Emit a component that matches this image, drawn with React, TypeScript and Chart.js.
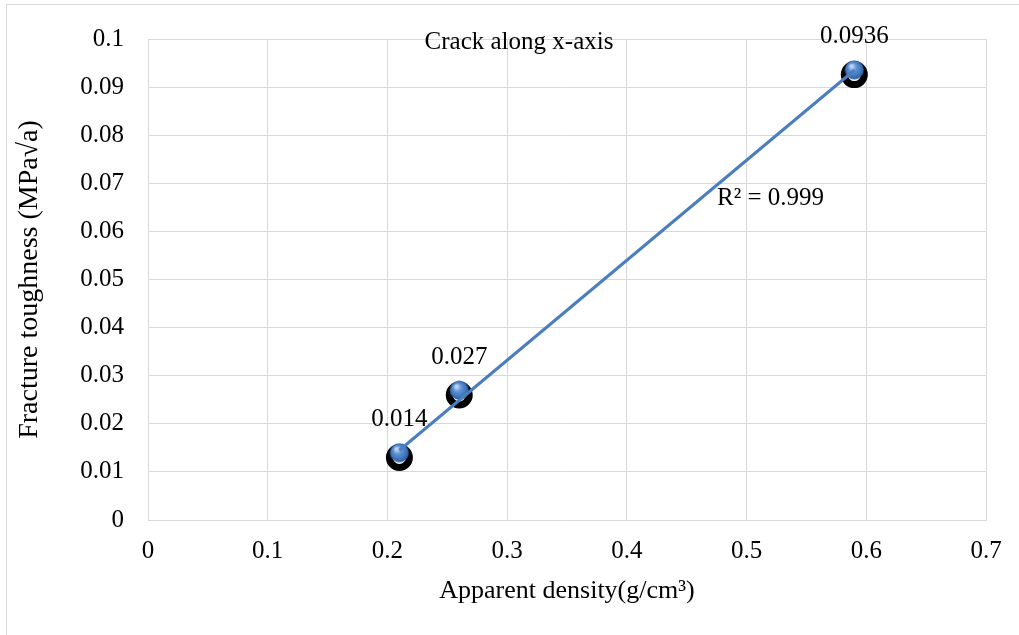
import React, { useEffect, useRef } from "react";
import { Chart, registerables } from "chart.js";

Chart.register(...registerables);

// ---- data ----
const densities = [0.21, 0.26, 0.59];
const toughness = [0.014, 0.027, 0.0936];
const markerShadow = [0.013, 0.026, 0.0926];
const valueLabels = ["0.014", "0.027", "0.0936"];
const trendDensity = [0.21, 0.59];
const trendToughness = [0.0145, 0.0935];
const xTicks = ["0", "0.1", "0.2", "0.3", "0.4", "0.5", "0.6", "0.7"];
const yTicks = ["0", "0.01", "0.02", "0.03", "0.04", "0.05", "0.06", "0.07", "0.08", "0.09", "0.1"];
const xTitle = "Apparent density(g/cm³)";
const yTitle = "Fracture toughness (MPa√a)";
const annotationTitle = "Crack along x-axis";
const rSquared = "R² = 0.999";

const FONT = "'Liberation Serif', 'Times New Roman', serif";
const FS = 25;
const GRID = "#d9d9d9";

function makeBall(): HTMLCanvasElement {
  const size = 20;
  const c = document.createElement("canvas");
  c.width = size;
  c.height = size;
  const ctx = c.getContext("2d")!;
  const g = ctx.createRadialGradient(7, 6, 1, 10, 10, 10);
  g.addColorStop(0, "#c2daf6");
  g.addColorStop(0.35, "#5f93d8");
  g.addColorStop(0.8, "#3b6eb2");
  g.addColorStop(1, "#24508c");
  ctx.fillStyle = g;
  ctx.beginPath();
  ctx.arc(10, 10, 9.5, 0, Math.PI * 2);
  ctx.fill();
  return c;
}

const frameAndText = {
  id: "frameAndText",
  beforeDraw(chart: any) {
    const ctx = chart.ctx;
    ctx.save();
    ctx.fillStyle = "#ffffff";
    ctx.fillRect(0, 0, chart.width, chart.height);
    ctx.strokeStyle = GRID;
    ctx.lineWidth = 1;
    ctx.strokeRect(6.5, 4.5, 1030, 700);
    ctx.restore();
  },
  afterDatasetsDraw(chart: any) {
    const ctx = chart.ctx;
    ctx.save();
    ctx.fillStyle = "#000";
    ctx.font = `${FS}px ${FONT}`;
    ctx.textBaseline = "middle";
    ctx.textAlign = "center";
    const meta = chart.getDatasetMeta(1);
    meta.data.forEach((pt: any, i: number) => {
      ctx.fillText(valueLabels[i], pt.x, pt.y - 33);
    });
    ctx.fillText(annotationTitle, 519, 42);
    ctx.textAlign = "left";
    ctx.fillText(rSquared, 717, 198);
    ctx.restore();
  },
};

export default function App() {
  const ref = useRef<HTMLCanvasElement>(null);
  useEffect(() => {
    if (!ref.current) return;
    const ball = makeBall();
    const chart = new Chart(ref.current, {
      type: "scatter",
      data: {
        datasets: [
          {
            type: "line",
            label: "trend",
            data: trendDensity.map((x, i) => ({ x, y: trendToughness[i] })),
            borderColor: "#4a7ebf",
            borderWidth: 3,
            pointRadius: 0,
            fill: false,
            order: 0,
          } as any,
          {
            label: "toughness",
            data: densities.map((x, i) => ({ x, y: toughness[i] })),
            pointStyle: ball,
            pointRadius: 10,
            backgroundColor: "#4a7ebf",
            order: 1,
          },
          {
            label: "shadow",
            data: densities.map((x, i) => ({ x, y: markerShadow[i] })),
            pointStyle: "circle",
            pointRadius: 10,
            borderWidth: 7,
            borderColor: "#000000",
            backgroundColor: "#ffffff",
            order: 2,
          },
        ],
      },
      options: {
        animation: false,
        responsive: false,
        events: [],
        layout: { padding: { left: 0, top: 33, right: 33, bottom: 0 } },
        plugins: {
          legend: { display: false },
          tooltip: { enabled: false },
          title: { display: false },
        },
        scales: {
          x: {
            type: "linear",
            min: 0,
            max: 0.7,
            grid: { color: GRID, drawTicks: false },
            border: { color: GRID },
            ticks: {
              stepSize: 0.1,
              autoSkip: false,
              maxRotation: 0,
              padding: 16,
              color: "#000",
              font: { family: FONT, size: FS },
              callback: (_v: any, i: number) => xTicks[i] ?? "",
            },
            title: {
              display: true,
              text: xTitle,
              color: "#000",
              font: { family: FONT, size: 26 },
              padding: { top: 0, bottom: 28 },
            },
            afterFit: (s: any) => {
              s.height = 115;
            },
          },
          y: {
            type: "linear",
            min: 0,
            max: 0.1,
            grid: { color: GRID, drawTicks: false },
            border: { color: GRID },
            ticks: {
              stepSize: 0.01,
              autoSkip: false,
              padding: 24,
              color: "#000",
              font: { family: FONT, size: FS },
              callback: (_v: any, i: number) => yTicks[i] ?? "",
            },
            title: {
              display: true,
              text: yTitle,
              color: "#000",
              font: { family: FONT, size: 28 },
              padding: { top: 13, bottom: 0 },
            },
            afterFit: (s: any) => {
              s.width = 148;
            },
          },
        },
      },
      plugins: [frameAndText],
    });
    return () => chart.destroy();
  }, []);
  return (
    <div style={{ position: "absolute", left: 0, top: 0, width: 1019, height: 635 }}>
      <canvas ref={ref} width={1019} height={635} />
    </div>
  );
}
